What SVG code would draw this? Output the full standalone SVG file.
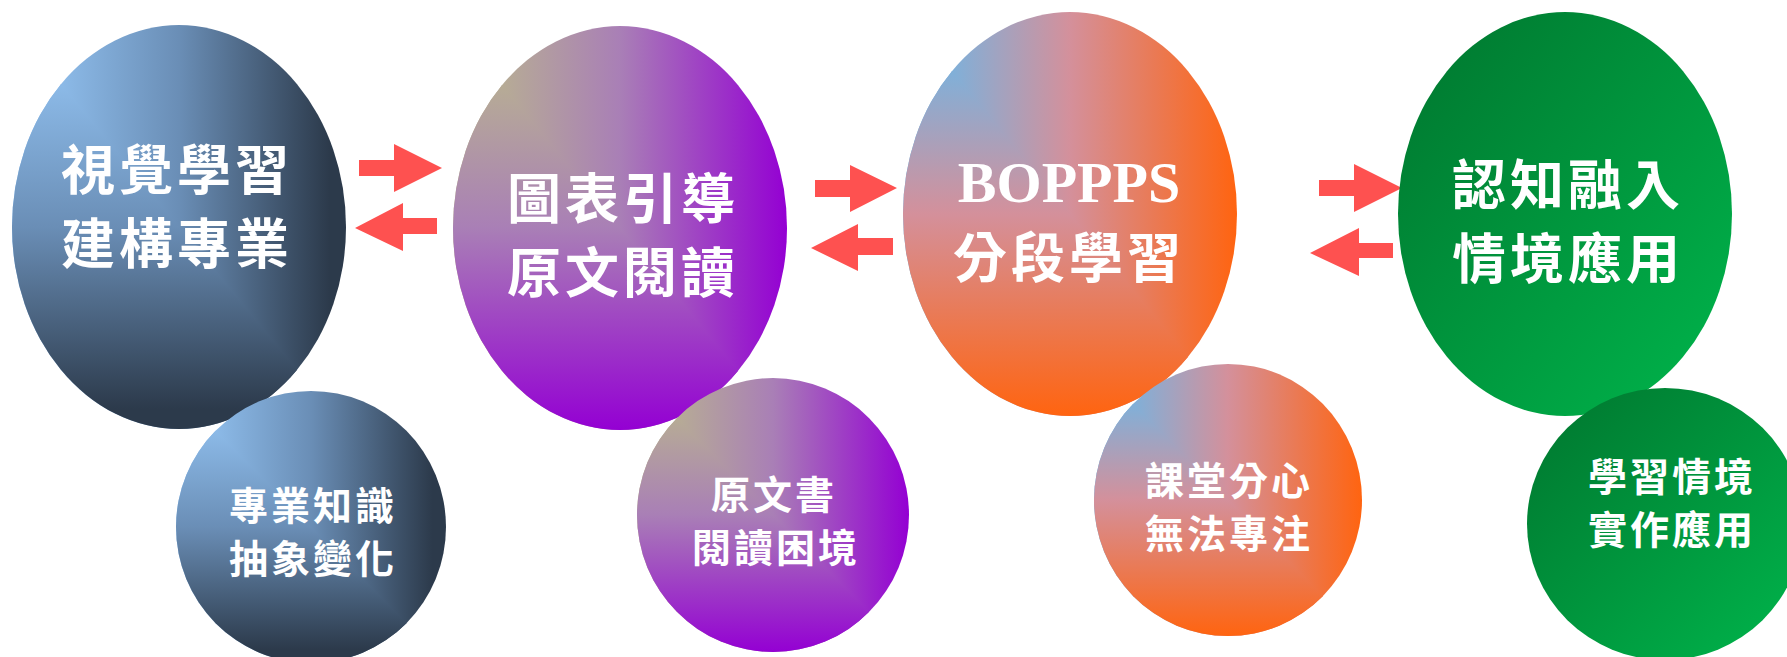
<svg xmlns="http://www.w3.org/2000/svg" width="1787" height="657" viewBox="0 0 1787 657">
<style>
.cjk{font-family:"Noto Sans CJK TC","Noto Sans CJK SC",sans-serif;fill:#fff;text-anchor:middle;dominant-baseline:central;font-weight:700}
.big{font-size:54px;letter-spacing:4px}
.small{font-size:39px;letter-spacing:3px}
.lat{font-family:"Liberation Serif",serif;font-weight:700;fill:#fff;text-anchor:middle;font-size:58px}
.arrow{fill:#FE5150}
</style>
<defs>
<clipPath id="lowTri" clipPathUnits="objectBoundingBox"><polygon points="0,0 1,1 0,1"/></clipPath>
<linearGradient id="blueH" x1="0" y1="0" x2="1" y2="0"><stop offset="0" stop-color="#9ACCFC"/><stop offset="0.5" stop-color="#6A8EB6"/><stop offset="0.95" stop-color="#2C3A4B"/></linearGradient>
<linearGradient id="blueV" x1="0" y1="0" x2="0" y2="1"><stop offset="0" stop-color="#9ACCFC"/><stop offset="0.5" stop-color="#6A8EB6"/><stop offset="0.95" stop-color="#2C3A4B"/></linearGradient>
<linearGradient id="purH" x1="0" y1="0" x2="1" y2="0"><stop offset="0" stop-color="#BCBE88"/><stop offset="0.5" stop-color="#A97FB6"/><stop offset="1" stop-color="#9400D3"/></linearGradient>
<linearGradient id="purV" x1="0" y1="0" x2="0" y2="1"><stop offset="0" stop-color="#BCBE88"/><stop offset="0.5" stop-color="#A97FB6"/><stop offset="1" stop-color="#9400D3"/></linearGradient>
<linearGradient id="orgH" x1="0" y1="0" x2="1" y2="0"><stop offset="0" stop-color="#5DBDF2"/><stop offset="0.5" stop-color="#D4909B"/><stop offset="1" stop-color="#FF6410"/></linearGradient>
<linearGradient id="orgV" x1="0" y1="0" x2="0" y2="1"><stop offset="0" stop-color="#5DBDF2"/><stop offset="0.5" stop-color="#D4909B"/><stop offset="1" stop-color="#FF6410"/></linearGradient>
<linearGradient id="grn" x1="0" y1="0" x2="1" y2="1"><stop offset="0" stop-color="#00752E"/><stop offset="1" stop-color="#00B64C"/></linearGradient>
</defs>

<g id="connectors">
<polygon class="arrow" points="359,160 394,160 394,144 442,168 394,192 394,176 359,176"/>
<polygon class="arrow" points="355,228 403,203 403,218 437,218 437,234 403,234 403,251"/>
<polygon class="arrow" points="815,180 850,180 850,165 897,188 850,212 850,197 815,197"/>
<polygon class="arrow" points="811,248 858,224 858,238 893,238 893,255 858,255 858,271"/>
<polygon class="arrow" points="1319,180 1354,180 1354,164 1402,188 1354,212 1354,196 1319,196"/>
<polygon class="arrow" points="1310,253 1359,228 1359,243 1393,243 1393,258 1359,258 1359,276"/>
</g>

<g id="node-visual">
<ellipse cx="179" cy="227" rx="167" ry="202" fill="url(#blueH)"/>
<ellipse cx="179" cy="227" rx="167" ry="202" fill="url(#blueV)" clip-path="url(#lowTri)"/>
<text class="cjk big" x="177" y="166">視覺學習</text>
<text class="cjk big" x="177" y="240">建構專業</text>
</g>

<g id="node-chart">
<ellipse cx="620" cy="228" rx="167" ry="202" fill="url(#purH)"/>
<ellipse cx="620" cy="228" rx="167" ry="202" fill="url(#purV)" clip-path="url(#lowTri)"/>
<text class="cjk big" x="623" y="195">圖表引導</text>
<text class="cjk big" x="623" y="269">原文閱讀</text>
</g>

<g id="node-bopps">
<ellipse cx="1070" cy="214" rx="167" ry="202" fill="url(#orgH)"/>
<ellipse cx="1070" cy="214" rx="167" ry="202" fill="url(#orgV)" clip-path="url(#lowTri)"/>
<text class="lat" x="1069" y="202">BOPPPS</text>
<text class="cjk big" x="1069" y="254">分段學習</text>
</g>

<g id="node-cognition">
<ellipse cx="1565" cy="214" rx="167" ry="202" fill="url(#grn)"/>
<text class="cjk big" x="1568" y="181">認知融入</text>
<text class="cjk big" x="1568" y="255">情境應用</text>
</g>

<g id="node-abstract">
<ellipse cx="311" cy="527" rx="135" ry="136" fill="url(#blueH)"/>
<ellipse cx="311" cy="527" rx="135" ry="136" fill="url(#blueV)" clip-path="url(#lowTri)"/>
<text class="cjk small" x="313" y="503">專業知識</text>
<text class="cjk small" x="313" y="556">抽象變化</text>
</g>

<g id="node-reading">
<ellipse cx="773" cy="515" rx="136" ry="137" fill="url(#purH)"/>
<ellipse cx="773" cy="515" rx="136" ry="137" fill="url(#purV)" clip-path="url(#lowTri)"/>
<text class="cjk small" x="774" y="492">原文書</text>
<text class="cjk small" x="776" y="545">閱讀困境</text>
</g>

<g id="node-focus">
<ellipse cx="1228" cy="500" rx="134" ry="136" fill="url(#orgH)"/>
<ellipse cx="1228" cy="500" rx="134" ry="136" fill="url(#orgV)" clip-path="url(#lowTri)"/>
<text class="cjk small" x="1229" y="478">課堂分心</text>
<text class="cjk small" x="1229" y="531">無法專注</text>
</g>

<g id="node-practice">
<ellipse cx="1665" cy="524" rx="138" ry="136" fill="url(#grn)"/>
<text class="cjk small" x="1672" y="474">學習情境</text>
<text class="cjk small" x="1672" y="527">實作應用</text>
</g>
</svg>
